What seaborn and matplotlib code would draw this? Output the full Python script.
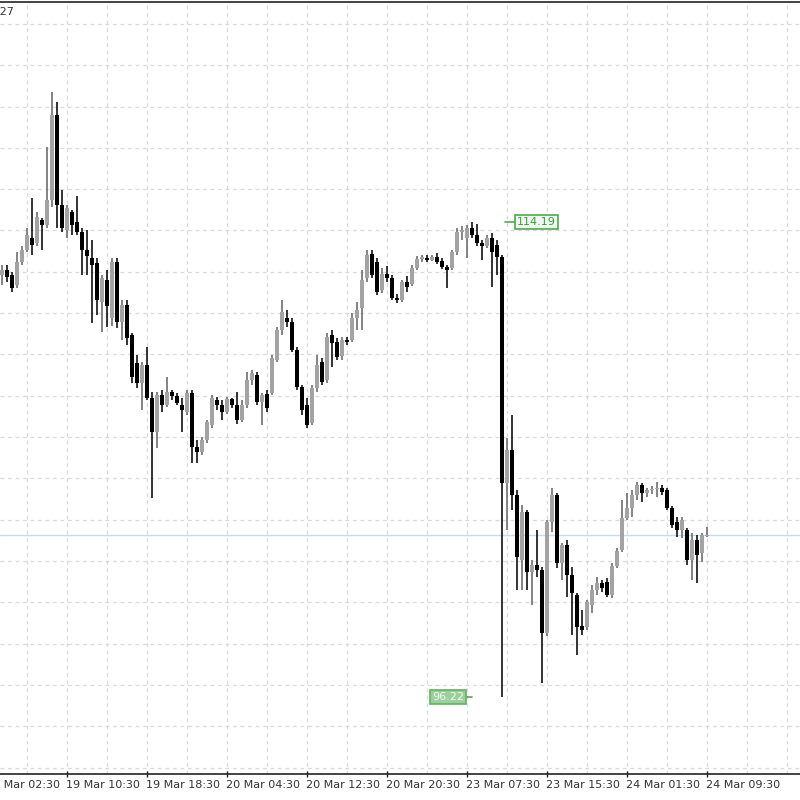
import numpy as np
import pandas as pd
import matplotlib
matplotlib.use("Agg")
import matplotlib.pyplot as plt
import seaborn as sns
from matplotlib.transforms import blended_transform_factory

# ---- data (M30 candles) ----
opens = [112.19, 112.38, 112.19, 111.81, 112.67, 113.13, 113.59, 113.40, 114.27, 114.08,
         115.02, 118.24, 114.83, 113.89, 114.57, 114.19, 113.81, 113.13, 112.83, 112.64,
         111.16, 112.00, 110.56, 112.67, 110.40, 111.05, 109.92, 108.86, 108.10, 108.78,
         107.54, 106.24, 107.65, 107.27, 107.76, 107.61, 107.27, 107.00, 107.73, 105.68,
         105.49, 105.94, 106.51, 107.46, 107.27, 107.00, 107.50, 107.27, 106.70, 107.27,
         108.21, 108.40, 107.38, 107.69, 107.73, 108.97, 110.11, 110.56, 110.40, 109.35,
         107.95, 107.27, 106.59, 107.92, 108.89, 108.21, 109.92, 109.65, 109.12, 109.73,
         109.73, 110.56, 110.94, 112.08, 112.98, 112.67, 111.62, 112.22, 112.08, 111.32,
         111.24, 111.92, 111.85, 112.45, 112.79, 112.83, 112.75, 112.87, 112.71, 112.49,
         112.45, 113.05, 113.81, 113.59, 113.97, 113.70, 113.40, 113.28, 113.59, 113.32,
         112.87, 104.32, 105.57, 103.87, 101.41, 103.22, 100.95, 101.22, 101.03, 98.64,
         102.84, 103.87, 101.29, 101.97, 100.84, 100.08, 98.91, 98.87, 99.70, 100.27,
         100.54, 100.57, 100.08, 101.18, 101.78, 103.00, 103.37, 103.87, 104.24, 103.94,
         104.05, 104.09, 104.13, 104.05, 103.37, 102.84, 102.54, 102.54, 101.41, 102.16,
         101.67, 102.31]
highs = [112.57, 112.57, 112.30, 113.05, 113.28, 113.97, 115.10, 114.57, 114.35, 117.03,
         119.11, 118.73, 115.40, 114.83, 114.65, 115.17, 113.97, 113.89, 113.51, 112.83,
         112.19, 112.38, 112.83, 112.83, 111.24, 111.24, 110.00, 109.16, 108.89, 109.46,
         107.76, 107.76, 107.84, 108.33, 107.84, 107.73, 107.54, 107.84, 107.84, 105.94,
         106.05, 106.70, 107.65, 107.57, 107.46, 107.57, 107.54, 107.76, 107.46, 108.51,
         108.59, 108.51, 107.73, 107.84, 109.16, 110.22, 111.24, 110.86, 110.56, 109.46,
         108.02, 107.54, 108.02, 109.16, 109.05, 110.00, 110.11, 109.81, 109.85, 109.85,
         110.75, 111.16, 112.38, 113.13, 113.13, 112.83, 112.45, 112.53, 112.19, 111.47,
         112.00, 112.15, 112.57, 112.90, 112.94, 112.94, 112.94, 113.02, 112.83, 112.57,
         113.13, 113.97, 114.04, 114.08, 114.19, 114.12, 113.51, 113.70, 113.78, 113.51,
         112.94, 106.02, 106.89, 104.05, 103.49, 103.30, 101.41, 102.54, 101.14, 102.92,
         104.13, 103.94, 102.05, 102.16, 101.14, 100.16, 99.51, 99.89, 100.46, 100.76,
         100.65, 100.73, 101.29, 101.86, 103.68, 103.94, 104.05, 104.36, 104.32, 104.13,
         104.20, 104.36, 104.24, 104.13, 103.45, 103.03, 103.03, 102.62, 102.43, 102.35,
         102.43, 102.65]
lows = [111.81, 111.92, 111.54, 111.70, 112.57, 113.05, 112.94, 113.28, 113.13, 113.97,
        114.76, 113.97, 113.81, 113.59, 113.70, 113.70, 112.19, 112.19, 110.37, 110.67,
        110.03, 110.22, 110.26, 110.18, 109.73, 109.54, 108.10, 107.92, 107.08, 107.46,
        103.76, 105.65, 107.00, 107.20, 107.46, 107.27, 106.24, 106.89, 105.08, 105.08,
        105.38, 105.83, 106.40, 107.08, 106.70, 106.93, 107.16, 106.55, 106.62, 107.16,
        108.02, 107.27, 106.51, 107.00, 107.65, 108.89, 109.92, 110.22, 109.27, 107.84,
        106.89, 106.40, 106.51, 107.76, 108.02, 108.10, 108.70, 108.97, 108.97, 109.54,
        109.65, 110.11, 110.11, 111.92, 112.08, 111.43, 111.51, 111.92, 111.24, 111.13,
        111.16, 111.54, 111.77, 112.38, 112.67, 112.67, 112.71, 112.60, 112.41, 111.70,
        112.38, 112.94, 113.51, 112.83, 113.59, 113.28, 112.75, 113.21, 111.73, 112.19,
        96.22, 102.54, 103.30, 100.27, 100.27, 100.27, 99.70, 100.76, 96.75, 98.53,
        102.47, 101.11, 100.65, 100.00, 98.57, 97.81, 98.57, 98.76, 99.40, 100.08,
        100.20, 100.00, 99.97, 101.11, 101.71, 102.92, 103.03, 103.68, 103.60, 103.79,
        103.90, 103.79, 103.87, 103.30, 102.62, 102.28, 102.24, 101.22, 100.65, 100.54,
        101.33, 102.28]
closes = [112.38, 112.11, 111.70, 112.67, 113.13, 113.70, 113.32, 114.38, 114.08, 115.02,
          118.24, 114.83, 113.97, 114.72, 114.08, 113.81, 113.13, 112.90, 112.57, 111.24,
          112.08, 111.01, 112.67, 110.40, 111.05, 109.81, 108.33, 108.10, 108.78, 107.54,
          106.24, 107.65, 107.27, 107.76, 107.61, 107.35, 107.08, 107.73, 105.68, 105.49,
          105.94, 106.62, 107.54, 107.27, 107.00, 107.50, 107.27, 106.70, 107.27, 108.21,
          108.48, 107.38, 107.65, 107.16, 109.05, 110.11, 110.78, 110.40, 109.35, 107.95,
          107.08, 106.51, 107.92, 108.78, 108.13, 109.85, 109.62, 109.09, 109.73, 109.65,
          110.56, 110.86, 112.00, 112.94, 112.19, 111.54, 112.22, 112.08, 111.32, 111.24,
          111.92, 111.73, 112.45, 112.79, 112.87, 112.75, 112.87, 112.67, 112.49, 112.38,
          113.05, 113.81, 113.89, 113.97, 113.70, 113.40, 113.28, 113.59, 113.05, 112.87,
          104.32, 105.57, 103.87, 101.52, 103.22, 100.95, 101.22, 101.03, 98.64, 102.84,
          103.87, 101.29, 101.97, 100.84, 100.16, 98.87, 98.76, 99.82, 100.27, 100.54,
          100.35, 100.08, 101.18, 101.75, 103.00, 103.37, 103.87, 104.24, 103.94, 104.05,
          104.09, 104.13, 103.98, 103.37, 102.73, 102.54, 102.92, 101.41, 102.16, 101.60,
          102.35, 102.35]
time_labels = ["19 Mar 02:30", "19 Mar 10:30", "19 Mar 18:30", "20 Mar 04:30",
               "20 Mar 12:30", "20 Mar 20:30", "23 Mar 07:30", "23 Mar 15:30",
               "24 Mar 01:30", "24 Mar 09:30"]
label_bars = [-3, 13, 29, 45, 61, 77, 93, 109, 125, 141]
bid_price = 102.35
marked_high = 114.19
marked_low = 96.22
corner_text = ".27"

df = pd.DataFrame({"open": opens, "high": highs, "low": lows, "close": closes})
df["bar"] = np.arange(len(df))
df["bull"] = df["close"] >= df["open"]

sns.set_theme(style="white")
plt.rcParams["font.family"] = ["DejaVu Sans"]

fig = plt.figure(figsize=(8, 8), dpi=100)
ax = fig.add_axes([0.0, 0.0325, 1.0, 0.965])
ax.set_facecolor("white")

# grid
for k in range(19):
    ax.axhline(121.68 - 1.5625 * k, color="#d9d9d9", lw=0.9, ls=(0, (3, 3)), zorder=0)
for b in range(5, 160, 8):
    ax.axvline(b, color="#d9d9d9", lw=0.9, ls=(0, (3, 3)), zorder=0)

# bid line
ax.axhline(bid_price, color="#c4dcee", lw=1.0, zorder=1)

bull_col = "#a3a3a3"
bear_col = "#000000"
wick_cols = np.where(df["bull"], "#6e6e6e", "#111111")
body_cols = np.where(df["bull"], bull_col, bear_col)
ax.vlines(df["bar"], df["low"], df["high"], colors=wick_cols, lw=1.2, zorder=2)
bottoms = np.minimum(df["open"], df["close"])
heights = np.maximum(np.abs(df["close"] - df["open"]), 0.05)
ax.bar(df["bar"], heights, bottom=bottoms, width=0.78, color=body_cols,
       linewidth=0, zorder=3)

ax.set_xlim(-0.4, 159.6)
ax.set_ylim(93.31, 122.51)

# price labels
hi_bar = df["high"].iloc[90:100].idxmax()
ax.plot([hi_bar + 6.6, hi_bar + 8.8], [marked_high, marked_high], color="#4daa4d", lw=1.2, zorder=4)
ax.text(hi_bar + 9.0, marked_high, f"{marked_high:.2f}", fontsize=8, color="#3f9b3f",
        va="center", ha="left", zorder=5,
        bbox=dict(boxstyle="square,pad=0.18", fc="#eef8ee", ec="#4daa4d", lw=1.2))
lo_bar = df["low"].idxmin()
ax.plot([lo_bar - 7.4, lo_bar - 6.0], [marked_low, marked_low], color="#4daa4d", lw=1.2, zorder=4)
ax.text(lo_bar - 7.6, marked_low, f"{marked_low:.2f}", fontsize=8, color="#f2fbf2",
        va="center", ha="right", zorder=5,
        bbox=dict(boxstyle="square,pad=0.18", fc="#9ccf9c", ec="#5fb35f", lw=1.2))

# axis style
for s in ["left", "right"]:
    ax.spines[s].set_visible(False)
ax.spines["top"].set_color("#222222")
ax.spines["bottom"].set_color("#222222")
ax.spines["top"].set_linewidth(1.2)
ax.spines["bottom"].set_linewidth(1.2)
ax.set_yticks([])
ax.set_xticks([b for b in label_bars if b >= 0])
ax.set_xticklabels([])
ax.tick_params(axis="x", direction="inout", length=5, width=1, color="#222222", bottom=True)

trans = blended_transform_factory(ax.transData, ax.transAxes)
for b, lab in zip(label_bars, time_labels):
    ax.text(b - 0.2, -0.0145, lab, transform=trans, fontsize=8, color="#333333",
            ha="left", va="center", clip_on=False)

fig.text(-0.004, 0.985, corner_text, fontsize=8, color="#333333", ha="left", va="center")

fig.savefig("out.png", dpi=100, facecolor="white")
